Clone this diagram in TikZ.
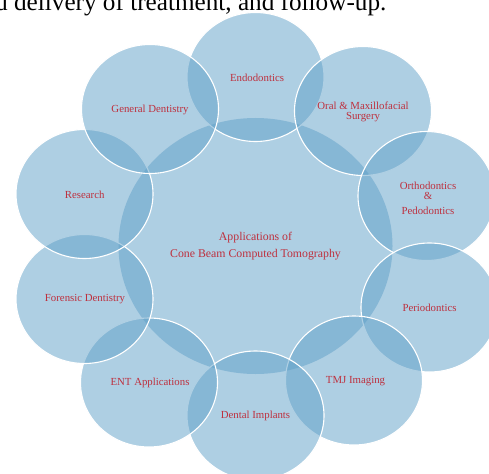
\documentclass[tikz,border=0pt]{standalone}
\usepackage{fontspec}
\setmainfont{Liberation Serif}
\usetikzlibrary{shapes.geometric}
\definecolor{cfill}{RGB}{95,160,200}
\definecolor{ctext}{RGB}{190,48,62}
\begin{document}
\begin{tikzpicture}[x=1pt,y=-1pt,
  bubble/.style={ellipse, minimum width=137pt, minimum height=129pt, inner sep=0pt,
    fill=cfill, fill opacity=0.5, draw=white, line width=1.1pt},
  hub/.style={ellipse, minimum width=274pt, minimum height=256pt, inner sep=0pt,
    fill=cfill, fill opacity=0.5},
  lbl/.style={text=ctext, font=\fontsize{10.8}{10.7}\selectfont, align=center, inner sep=0pt},
  hublbl/.style={text=ctext, font=\fontsize{11.8}{16.7}\selectfont, align=center, inner sep=0pt}]
\clip (0,0) rectangle (489,473);
\fill[white] (0,0) rectangle (489,473);
\node[anchor=base west, inner sep=0pt, font=\fontsize{25.2}{26}\selectfont] (toptext) at (-5,10.5) {d delivery of treatment, and follow-up.};
% central hub
\node[hub] (hub) at (255.5,246) {};
% outer bubbles
\node[bubble] (endo) at (255.5,77) {};
\node[bubble] (oral) at (363,111) {};
\node[bubble] (ortho) at (426.5,196) {};
\node[bubble] (perio) at (429.5,307.5) {};
\node[bubble] (tmj) at (354,380.5) {};
\node[bubble] (impl) at (255.5,415.5) {};
\node[bubble] (ent) at (149,382.5) {};
\node[bubble] (foren) at (84.5,299) {};
\node[bubble] (res) at (84.5,194) {};
\node[bubble] (gen) at (150,109) {};
% labels
\node[hublbl] (hubtext) at (255.5,246) {Applications of\\Cone Beam Computed Tomography};
\node[lbl] (endotext) at (257,78) {Endodontics};
\node[lbl] (oraltext) at (363,112) {Oral \& Maxillofacial\\Surgery};
\node[lbl, anchor=base] (orthotext1) at (428,189) {Orthodontics};
\node[lbl, anchor=base] (orthotext2) at (428,199.5) {\&};
\node[lbl, anchor=base] (orthotext3) at (428,214.5) {Pedodontics};
\node[lbl] (periotext) at (429.5,307.5) {Periodontics};
\node[lbl] (tmjtext) at (355.5,381) {TMJ Imaging};
\node[lbl] (impltext) at (255.5,416) {Dental Implants};
\node[lbl] (enttext) at (150,383) {ENT Applications};
\node[lbl] (forentext) at (85,299) {Forensic Dentistry};
\node[lbl] (restext) at (84.7,194.7) {Research};
\node[lbl] (gentext) at (150,110) {General Dentistry};
\end{tikzpicture}
\end{document}
